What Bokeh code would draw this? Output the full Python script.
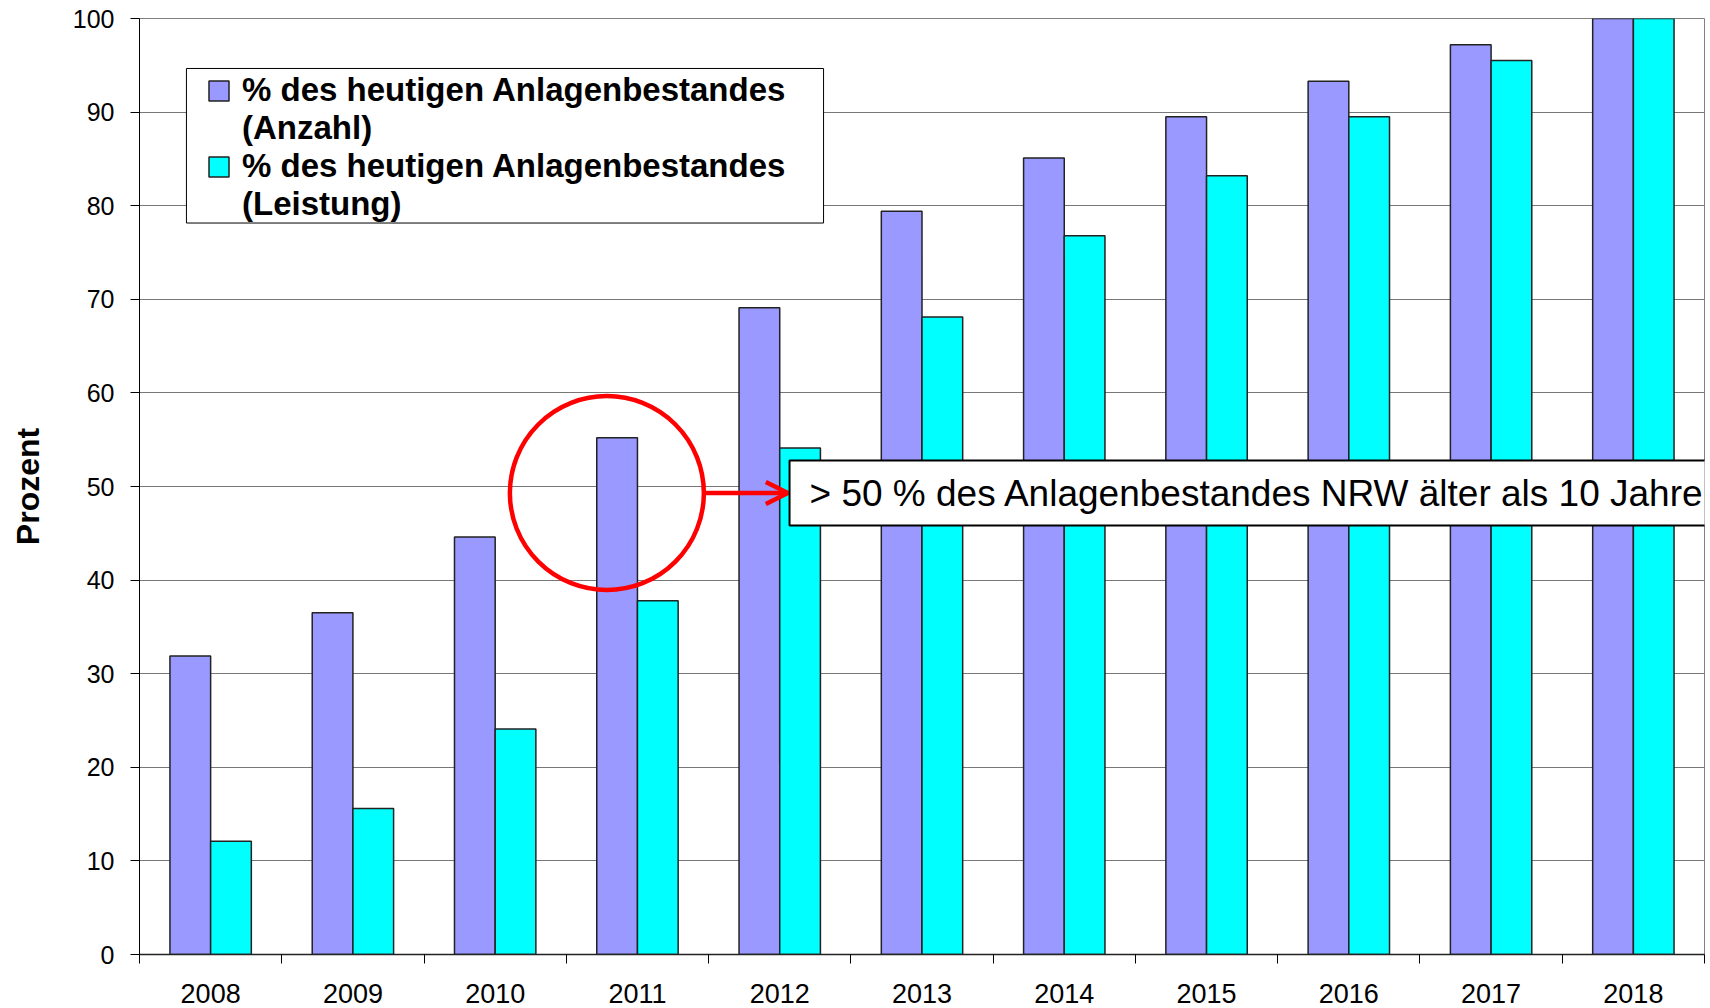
from bokeh.plotting import figure
from bokeh.models import (ColumnDataSource, Range1d, FixedTicker, BoxAnnotation,
                          Legend, LegendItem, Label, Arrow, OpenHead)
from bokeh.embed import file_html
from bokeh.resources import INLINE

# ---- data ----
years = ["2008", "2009", "2010", "2011", "2012", "2013", "2014", "2015", "2016", "2017", "2018"]
anzahl = [31.9, 36.5, 44.6, 55.2, 69.1, 79.4, 85.1, 89.5, 93.3, 97.2, 100.0]
leistung = [12.1, 15.6, 24.1, 37.8, 54.1, 68.1, 76.8, 83.2, 89.5, 95.5, 100.0]
y_ticks = [0, 10, 20, 30, 40, 50, 60, 70, 80, 90, 100]
label_anzahl = ["% des heutigen Anlagenbestandes", "(Anzahl)"]
label_leistung = ["% des heutigen Anlagenbestandes", "(Leistung)"]
note_text = "> 50 % des Anlagenbestandes NRW älter als 10 Jahre"
highlight_year = "2011"
highlight_level = 49.3

FONT = "Liberation Sans"
PURPLE = "#9999FF"
CYAN = "#00FFFF"

n = len(years)
bw = 0.286
centers = [i + 0.5 for i in range(n)]
src = ColumnDataSource(dict(year=years, center=centers, anzahl=anzahl, leistung=leistung,
                            x_a=[c - bw / 2 for c in centers],
                            x_l=[c + bw / 2 for c in centers]))

p = figure(width=1710, height=1008, output_backend="svg", toolbar_location=None,
           x_range=Range1d(0, n), y_range=Range1d(0, 100),
           min_border_left=139, min_border_right=6, min_border_top=18, min_border_bottom=54)
p.background_fill_color = "white"
p.border_fill_color = "white"
p.outline_line_color = "#808080"
p.outline_line_width = 1

r1 = p.vbar(x="x_a", top="anzahl", width=bw, source=src,
            fill_color=PURPLE, line_color="#222222", line_width=1.5)
r2 = p.vbar(x="x_l", top="leistung", width=bw, source=src,
            fill_color=CYAN, line_color="#222222", line_width=1.5)
# invisible renderer used for the second (continuation) line of each legend entry
r_blank = p.vbar(x=[], top=[], width=bw, fill_alpha=0, line_alpha=0)

# x axis: labels at category centres, tick marks at category boundaries
xaxis = p.xaxis[0]
xaxis.ticker = FixedTicker(ticks=centers, minor_ticks=list(range(n + 1)))
xaxis.major_label_overrides = {c: y for c, y in zip(centers, years)}
xaxis.major_tick_out = 0
xaxis.major_tick_in = 0
xaxis.minor_tick_out = 9
xaxis.minor_tick_in = 0
xaxis.minor_tick_line_color = "black"
xaxis.axis_line_color = "#222222"
xaxis.axis_line_width = 1.5
xaxis.major_label_text_font = FONT
xaxis.major_label_text_font_size = "27px"
xaxis.major_label_text_color = "black"
xaxis.major_label_standoff = 20

# y axis
p.yaxis.ticker = FixedTicker(ticks=y_ticks)
p.yaxis.minor_tick_line_color = None
p.yaxis.major_tick_out = 9
p.yaxis.major_tick_in = 0
p.yaxis.major_tick_line_color = "black"
p.yaxis.axis_line_color = "black"
p.yaxis.axis_line_width = 1
p.yaxis.major_label_text_font = FONT
p.yaxis.major_label_text_font_size = "25px"
p.yaxis.major_label_text_color = "black"
p.yaxis.major_label_standoff = 16
p.yaxis.axis_label = "Prozent"
p.yaxis.axis_label_text_font = FONT
p.yaxis.axis_label_text_font_size = "32px"
p.yaxis.axis_label_text_font_style = "bold"
p.yaxis.axis_label_text_color = "black"
p.yaxis.axis_label_standoff = 24

p.xgrid.visible = False
p.ygrid.ticker = FixedTicker(ticks=y_ticks)
p.ygrid.grid_line_color = "#777777"
p.ygrid.grid_line_width = 1

# highlight circle + arrow + note
cx = years.index(highlight_year) + 0.285
p.scatter(x=[cx], y=[highlight_level], marker="circle", size=194,
          fill_color=None, line_color="red", line_width=4.5)
p.add_layout(Arrow(x_start=cx + 0.675, y_start=highlight_level,
                   x_end=cx + 1.272, y_end=highlight_level,
                   line_color="red", line_width=4.5,
                   end=OpenHead(size=22, line_color="red", line_width=4.5)))
p.add_layout(Label(x=cx + 1.284, y=highlight_level, text=note_text,
                   text_font=FONT, text_font_size="37px", text_color="black",
                   text_align="left", text_baseline="middle",
                   background_fill_color="white", border_line_color="black",
                   border_line_width=2, padding=(20, 40, 12, 12)))

# legend frame
p.add_layout(BoxAnnotation(left=0.330, right=4.808, top=94.66, bottom=78.15,
                           fill_color="white", fill_alpha=1,
                           line_color="black", line_width=1, line_alpha=1))

legend = Legend(items=[LegendItem(label=label_anzahl[0], renderers=[r1]),
                       LegendItem(label=label_anzahl[1], renderers=[r_blank]),
                       LegendItem(label=label_leistung[0], renderers=[r2]),
                       LegendItem(label=label_leistung[1], renderers=[r_blank])],
                location=(67, 731), margin=0, padding=5, spacing=0,
                glyph_width=25, glyph_height=25, label_standoff=11,
                label_text_font=FONT, label_text_font_size="33px",
                label_text_font_style="bold", label_text_color="black",
                border_line_color=None, background_fill_alpha=0)
p.add_layout(legend, "center")

open("out.html", "w").write(file_html(p, INLINE))
